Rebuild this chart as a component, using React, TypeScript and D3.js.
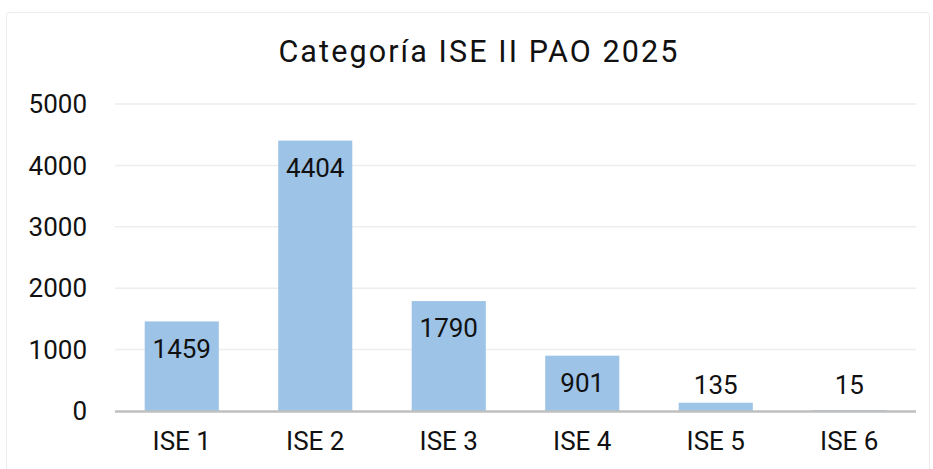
import React from "react";
import * as d3 from "d3";

const categories = ["ISE 1", "ISE 2", "ISE 3", "ISE 4", "ISE 5", "ISE 6"];
const values = [1459, 4404, 1790, 901, 135, 15];
const yTicks = [0, 1000, 2000, 3000, 4000, 5000];
const title = "Categoría ISE II PAO 2025";

const W = 933;
const H = 469;
const left = 115;
const right = 916;
const top = 104;
const bottom = 411;

export default function App() {
  const x = d3.scaleBand<string>().domain(categories).range([left, right]).paddingInner(0.445).paddingOuter(0.2225);
  const y = d3.scaleLinear().domain([0, 5000]).range([bottom, top]);
  const font = "Roboto, 'Noto Sans', sans-serif";
  const fs = 26;
  return (
    <svg width={W} height={H} style={{ position: "absolute", left: 0, top: 0, background: "#fff" }} fontFamily={font}>
      <rect x={6.5} y={12.5} width={W - 10} height={H} fill="#fff" stroke="#ececec" strokeWidth={1} rx={3} />
      <text x={478 + 1} y={62} textAnchor="middle" fontSize={30.5} fill="#111" letterSpacing={2.1}>{title}</text>
      {yTicks.map((t) => (
        <g key={t}>
          {t !== 0 && <line x1={left} x2={right} y1={y(t)} y2={y(t)} stroke="#ededed" strokeWidth={1.5} />}
          <text x={87} y={y(t)} dy="0.35em" textAnchor="end" fontSize={fs} fill="#111">{t}</text>
        </g>
      ))}
      {values.map((v, i) => (
        <rect key={i} x={x(categories[i])!} y={y(v)} width={x.bandwidth()} height={bottom - y(v)} fill="#9dc3e6" />
      ))}
      <line x1={left} x2={right} y1={bottom + 0.5} y2={bottom + 0.5} stroke="#bfbfbf" strokeWidth={2.5} />
      {values.map((v, i) => {
        const cx = x(categories[i])! + x.bandwidth() / 2;
        const inside = bottom - y(v) > 40;
        const ly = inside ? y(v) + 27 : Math.min(y(v), bottom - 8) - 18;
        return (
          <text key={i} x={cx} y={ly} dy="0.35em" textAnchor="middle" fontSize={fs} fill="#111">{v}</text>
        );
      })}
      {categories.map((c) => (
        <text key={c} x={x(c)! + x.bandwidth() / 2} y={441} dy="0.35em" textAnchor="middle" fontSize={fs} fill="#111">{c}</text>
      ))}
    </svg>
  );
}
